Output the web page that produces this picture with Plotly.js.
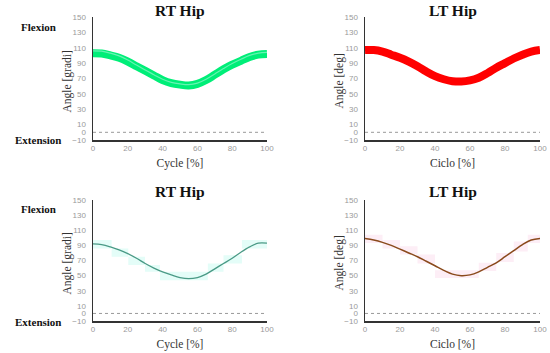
<!DOCTYPE html>
<html>
<head>
<meta charset="utf-8">
<script src="https://cdn.plot.ly/plotly-3.0.1.min.js"></script>
<style>html,body{margin:0;padding:0;background:#fff;}#chart{width:550px;height:353px;}</style>
</head>
<body>
<div id="chart"></div>
<script>
// ---- data ----
const cycle = [0,5,10,15,20,25,30,35,40,45,50,55,60,65,70,75,80,85,90,95,100];
const rtHipTop = [103,102.5,100,97,92,86,80,74,68,64,62,61,63,68,75,82,88,93,98,101,102];
const rtHipTopLight = [106,105.5,103,99.5,94,87.5,81,75,69,65,63,62,64,69,76,83,89.5,95,100,103,104];
const ltHipTop = [107,107,105,101,97,92,86,79,73,69,66.5,66,67.5,71,77,84,90,96,101,105,107];
const rtHipBottom = [92,91,88,84,79,73,66,60,55,51,47.5,46,47.5,52,59,66,73,81,88,93,93];
const ltHipBottom = [99,97,94,90,85,80,75,69,63,57,52,50,51,55,61,67,75,83,91,97,99];
const rtBandX = [0,10.7,20.3,29.9,38.5,66,75,85.6,100];
const rtBandLo = [86,75,64,55,44,55,66,86,86];
const rtBandHi = [97,86,75,64,55,66,77,97,97];
const ltBandX = [0,10,20,30,40,65,75,85,93,100];
const ltBandLo = [93,86,78,66,47,56,68,82,93,93];
const ltBandHi = [104,97,89,78,57,67,80,95,104,104];
const yTicks = [150,130,110,90,70,50,30,10,0,-10];
const xTicks = [0,20,40,60,80,100];
const titles = ['RT Hip','LT Hip','RT Hip','LT Hip'];
const yTitles = ['Angle [gradi]','Angle [deg]','Angle [gradi]','Angle [deg]'];
const xTitles = ['Cycle [%]','Ciclo [%]','Cycle [%]','Ciclo [%]'];

// ---- traces ----
const traces = [
  {x: cycle, y: rtHipTop, xaxis:'x', yaxis:'y', mode:'lines', line:{color:'#00ee78', width:8, shape:'spline'}, hoverinfo:'skip'},
  {x: cycle, y: rtHipTopLight, xaxis:'x', yaxis:'y', mode:'lines', line:{color:'#7ff4c0', width:1.2, shape:'spline'}, opacity:0.8, hoverinfo:'skip'},
  {x: cycle, y: ltHipTop, xaxis:'x2', yaxis:'y2', mode:'lines', line:{color:'#ff0000', width:8, shape:'spline'}, hoverinfo:'skip'},
  {x: rtBandX, y: rtBandLo, xaxis:'x3', yaxis:'y3', mode:'lines', line:{color:'rgba(0,0,0,0)', width:0, shape:'hv'}, hoverinfo:'skip'},
  {x: rtBandX, y: rtBandHi, xaxis:'x3', yaxis:'y3', mode:'lines', fill:'tonexty', fillcolor:'#e4fdf8', line:{color:'rgba(0,0,0,0)', width:0, shape:'hv'}, hoverinfo:'skip'},
  {x: cycle, y: rtHipBottom, xaxis:'x3', yaxis:'y3', mode:'lines', line:{color:'#4a9a86', width:1.3, shape:'spline'}, hoverinfo:'skip'},
  {x: ltBandX, y: ltBandLo, xaxis:'x4', yaxis:'y4', mode:'lines', line:{color:'rgba(0,0,0,0)', width:0, shape:'hv'}, hoverinfo:'skip'},
  {x: ltBandX, y: ltBandHi, xaxis:'x4', yaxis:'y4', mode:'lines', fill:'tonexty', fillcolor:'#fdeef6', line:{color:'rgba(0,0,0,0)', width:0, shape:'hv'}, hoverinfo:'skip'},
  {x: cycle, y: ltHipBottom, xaxis:'x4', yaxis:'y4', mode:'lines', line:{color:'#8a4a1c', width:1.5, shape:'spline'}, hoverinfo:'skip'}
];

// ---- layout ----
const W = 550, H = 353;
const xDomPx = [[93,267],[365,540],[93,267],[365,540]];
const yDomPx = [[17,140],[17,140],[200,321],[200,321]];
const yTitleX = [67, 339, 67, 339];
const serif = 'Liberation Serif, Times New Roman, serif';
const tickFont = {family:'Liberation Sans, Arial, sans-serif', size:8, color:'#9a9a9a'};
const layout = {
  width: W, height: H,
  margin: {l:0, r:0, t:0, b:0},
  paper_bgcolor:'#fff', plot_bgcolor:'#fff',
  showlegend:false,
  shapes: [], annotations: []
};
for (let i = 0; i < 4; i++) {
  const s = i === 0 ? '' : String(i+1);
  layout['xaxis'+s] = {
    domain: [xDomPx[i][0]/W, xDomPx[i][1]/W],
    anchor: 'y'+s,
    range: [0,100],
    tickvals: xTicks,
    showgrid:false, zeroline:false,
    showline:true, linecolor:'#333', linewidth:1.5,
    ticks:'', tickfont:tickFont,
    title:{text: xTitles[i], font:{family:serif, size:11.5, color:'#333'}, standoff:7},
    automargin:false
  };
  layout['yaxis'+s] = {
    domain: [1 - yDomPx[i][1]/H, 1 - yDomPx[i][0]/H],
    anchor: 'x'+s,
    range: [-10,150],
    tickvals: yTicks,
    showgrid:false, zeroline:false,
    showline:true, linecolor:'#333', linewidth:1.5,
    ticks:'', ticklabelstandoff:4,
    tickfont:tickFont,
    automargin:false
  };
  layout.shapes.push({type:'line', xref:'x'+s, yref:'y'+s, x0:0, x1:100, y0:0, y1:0,
    line:{color:'#999', width:1, dash:'dot'}});
  layout.annotations.push({text:'<b>'+titles[i]+'</b>', xref:'paper', yref:'paper',
    x:(xDomPx[i][0]+xDomPx[i][1])/2/W, y:1 - (i<2 ? 10 : 191)/H, xanchor:'center', yanchor:'middle',
    showarrow:false, font:{family:serif, size:15.5, color:'#111'}});
  layout.annotations.push({text: yTitles[i], xref:'paper', yref:'paper', textangle:-90,
    x:yTitleX[i]/W, y:1 - ((yDomPx[i][0]+yDomPx[i][1])/2 + 3)/H, xanchor:'center', yanchor:'middle',
    showarrow:false, font:{family:serif, size:11.5, color:'#333'}});
}
const sideLabels = [['Flexion',27],['Extension',140],['Flexion',209],['Extension',322]];
sideLabels.forEach(function(l){
  layout.annotations.push({text:'<b>'+l[0]+'</b>', xref:'paper', yref:'paper',
    x:38/W, y:1 - l[1]/H, xanchor:'center', yanchor:'middle', showarrow:false,
    font:{family:serif, size:11, color:'#111'}});
});
Plotly.newPlot('chart', traces, layout, {staticPlot:true, displayModeBar:false});
</script>
</body>
</html>
